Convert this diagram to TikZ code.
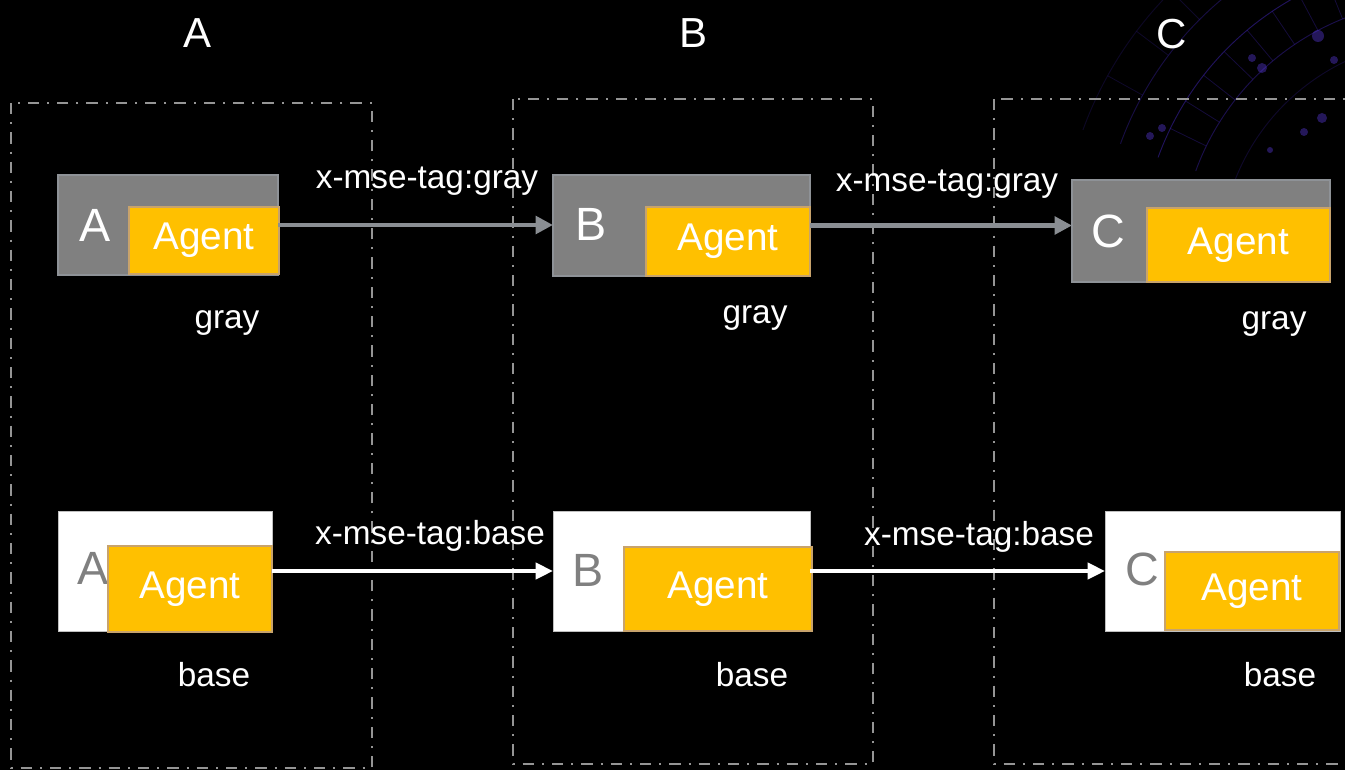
\documentclass[tikz,border=0pt]{standalone}
\usepackage{fontspec}
\setmainfont{Liberation Sans}
\usetikzlibrary{arrows.meta}

\definecolor{boxgray}{HTML}{808080}
\definecolor{boxedge}{HTML}{8E9297}
\definecolor{agentfill}{HTML}{FFC000}
\definecolor{agentedge}{HTML}{C8A36C}
\definecolor{zonegray}{HTML}{959595}
\definecolor{linkgray}{HTML}{8A8E93}
\definecolor{whiteedge}{HTML}{BFBFBF}
\definecolor{glow}{HTML}{3B22A8}
\definecolor{glowdot}{HTML}{5A3BE0}

\tikzset{
  zone/.style={draw=zonegray, line width=1.8pt,
    dash pattern=on 8.5pt off 6pt on 1.5pt off 6pt},
  graybox/.style={draw=boxedge, fill=boxgray, line width=1.5pt,
    inner sep=0pt, outer sep=0pt, anchor=north west},
  whitebox/.style={draw=whiteedge, fill=white, line width=0.75pt,
    inner sep=0pt, outer sep=0pt, anchor=north west},
  agentbox/.style={draw=agentedge, fill=agentfill, line width=1.5pt,
    text=white, font=\fontsize{29}{29}\selectfont,
    inner sep=0pt, outer sep=0pt, anchor=north west},
  head/.style={text=white, font=\fontsize{31.5}{31.5}\selectfont,
    anchor=base, inner sep=0pt},
  tag/.style={text=white, font=\fontsize{25}{25}\selectfont,
    anchor=base, inner sep=0pt},
  svc/.style={font=\fontsize{35}{35}\selectfont, anchor=base west, inner sep=0pt},
  graylink/.style={draw=linkgray, line width=3.6pt,
    -{Triangle[length=13pt,width=13pt]}},
  baselink/.style={draw=white, line width=2.8pt,
    -{Triangle[length=13pt,width=12pt]}},
}

\begin{document}
\begin{tikzpicture}[x=0.75pt,y=-0.75pt]
  % canvas
  \fill[black] (0,0) rectangle (1345,770);
  \useasboundingbox (0,0) rectangle (1345,770);

  % faint purple ring ornament in the upper right corner
  \begin{scope}
    \clip (0,0) rectangle (1345,770);
    \foreach \r/\o in {220/0.25,260/0.45,300/0.55,340/0.40,380/0.22}
      \draw[glow, opacity=\o, line width=0.7pt]
        (1440,260) ++(200:\r) arc[start angle=200, end angle=280, radius=\r];
    \foreach \a in {206,212,...,274}
      \draw[glow, opacity=0.35, line width=0.6pt]
        (1440,260) ++(\a:260) -- ++(\a:40);
    \foreach \a in {209,217,...,273}
      \draw[glow, opacity=0.25, line width=0.6pt]
        (1440,260) ++(\a:340) -- ++(\a:40);
    \foreach \p/\s in {(1150,136)/4, (1162,128)/4, (1262,68)/5, (1252,58)/4,
                       (1318,36)/6, (1322,118)/5, (1304,132)/4, (1240,232)/4,
                       (1292,196)/5, (1334,60)/4, (1270,150)/3}
      \fill[glowdot, opacity=0.4] \p circle[radius=\s];
  \end{scope}

  % column headers
  \node[head] (hA) at (198,48) {A};
  \node[head] (hB) at (693,48) {B};
  \node[head] (hC) at (1172,49) {C};

  % dash-dotted zones, one per service
  \draw[zone] (11,103) rectangle (372,768);
  \draw[zone] (513,99) rectangle (873,764);
  \begin{scope}
    \clip (0,0) rectangle (1345,770);
    \draw[zone] (994,99) rectangle (1365,764);
  \end{scope}

  % gray lane
  \node[graybox, minimum width=165pt, minimum height=75pt] (Ag) at (58,175) {};
  \node[agentbox, minimum width=112.5pt, minimum height=50.25pt] (Aga) at (129,207) {Agent};
  \node[svc, text=white] (Agl) at (79,241) {A};

  \node[graybox, minimum width=192.75pt, minimum height=75.75pt] (Bg) at (553,175) {};
  \node[agentbox, minimum width=123pt, minimum height=51.75pt] (Bga) at (646,207) {Agent};
  \node[svc, text=white] (Bgl) at (575,240) {B};

  \node[graybox, minimum width=193.5pt, minimum height=76.5pt] (Cg) at (1072,180) {};
  \node[agentbox, minimum width=137.25pt, minimum height=55.5pt] (Cga) at (1147,208) {Agent};
  \node[svc, text=white] (Cgl) at (1091,247) {C};

  % base lane
  \node[whitebox, minimum width=160.5pt, minimum height=90pt] (Ab) at (58,511) {};
  \node[svc, text=boxgray] (Abl) at (77,584) {A};
  \node[agentbox, minimum width=123pt, minimum height=64.5pt] (Aba) at (108,546) {Agent};

  \node[whitebox, minimum width=192.75pt, minimum height=90pt] (Bb) at (553,511) {};
  \node[svc, text=boxgray] (Bbl) at (572,586) {B};
  \node[agentbox, minimum width=141pt, minimum height=63pt] (Bba) at (624,547) {Agent};

  \node[whitebox, minimum width=176.25pt, minimum height=90pt] (Cb) at (1105,511) {};
  \node[svc, text=boxgray] (Cbl) at (1125,585) {C};
  \node[agentbox, minimum width=130.5pt, minimum height=58.5pt] (Cba) at (1165,552) {Agent};

  % calls between services
  \draw[graylink] (Ag.east) -- (Ag.east -| Bg.west);
  \draw[graylink] (Bg.east) -- (Bg.east -| Cg.west);
  \draw[baselink] (Ab.east) -- (Ab.east -| Bb.west);
  \draw[baselink] (Bb.east) -- (Bb.east -| Cb.west);

  % request tags
  \node[tag] (t1) at (427,189) {x-mse-tag:gray};
  \node[tag] (t2) at (947,191) {x-mse-tag:gray};
  \node[tag] (t3) at (430,544) {x-mse-tag:base};
  \node[tag] (t4) at (979,545) {x-mse-tag:base};

  % version labels
  \node[tag] (vAg) at (227,328) {gray};
  \node[tag] (vBg) at (755,323) {gray};
  \node[tag] (vCg) at (1274,329) {gray};
  \node[tag] (vAb) at (214,686) {base};
  \node[tag] (vBb) at (752,686) {base};
  \node[tag] (vCb) at (1280,686) {base};
\end{tikzpicture}
\end{document}
